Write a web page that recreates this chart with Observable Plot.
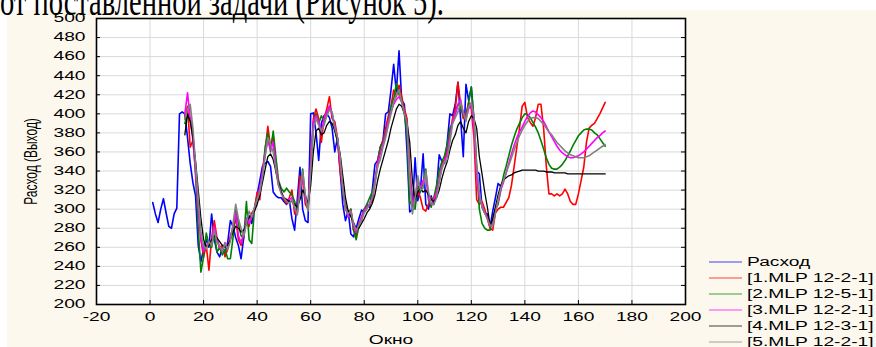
<!DOCTYPE html>
<html><head><meta charset="utf-8">
<script src="https://cdn.jsdelivr.net/npm/d3@7"></script>
<script src="https://cdn.jsdelivr.net/npm/@observablehq/plot@0.6"></script>
<style>
html,body{margin:0;padding:0;background:#fff;}
#wrap{position:relative;width:876px;height:347px;overflow:hidden;background:#fff;}
#cream{position:absolute;left:7px;top:10px;right:0;bottom:0;background:#fcf8ee;}
#chart{position:absolute;left:0;top:0;}
#over{position:absolute;left:0;top:0;}
</style></head><body>
<div id="wrap"><div id="cream"></div><div id="chart"></div><svg id="over" width="876" height="347"></svg></div>
<script>
// ---- data ----
const caption = "от поставленной задачи (Рисунок 5).";
const xLabel = "Окно";
const yLabel = "Расход (Выход)";
const xTicks = [-20, 0, 20, 40, 60, 80, 100, 120, 140, 160, 180, 200];
const yTicks = [200, 220, 240, 260, 280, 300, 320, 340, 360, 380, 400, 420, 440, 460, 480, 500];
const seriesNames = ["Расход", "[1.MLP 12-2-1]", "[2.MLP 12-5-1]", "[3.MLP 12-2-1]", "[4.MLP 12-3-1]", "[5.MLP 12-2-1]"];
const seriesColors = ["#0000ff", "#ff0000", "#008000", "#ff00ff", "#000000", "#808080"];
const rashodStart = 1;
const modelStart = 13;
// Расход, window 1..131
const rashod = [307,295,286,300,311,296,282,280,295,301,
 400,402,400,375,348,328,314,262,245,258,
 268,260,295,268,255,250,260,254,265,288,
 282,270,262,248,270,290,293,285,300,315,
 330,345,348,350,345,318,314,312,312,308,
 305,310,290,278,310,344,300,288,286,400,
 401,380,351,390,398,400,396,385,360,375,
 340,305,288,298,274,271,280,290,299,297,
 305,302,320,347,351,365,372,400,402,425,
 452,423,466,414,410,360,297,300,354,309,
 320,358,305,300,314,305,320,357,350,348,
 370,400,398,410,433,395,355,431,414,428,
 390,340,337,302,296,295,281,298,312,327,
 324];
// models, window 13..170
const mlp1 = [395,408,365,372,345,305,268,250,262,236,
 270,288,270,258,262,250,258,272,280,290,
 268,262,275,288,282,296,300,318,310,340,
 362,387,365,378,340,325,318,310,306,312,
 320,295,298,335,330,305,300,350,395,405,
 395,370,395,405,418,395,392,375,340,320,
 300,295,300,278,272,285,288,300,302,305,
 308,328,350,365,372,385,398,408,425,418,
 430,418,405,395,340,310,305,320,312,300,
 298,305,312,308,318,330,348,352,360,380,
 395,405,433,410,395,400,412,405,375,310,
 305,308,300,290,280,278,296,300,302,302,
 307,312,325,345,365,385,408,412,396,391,
 387,396,410,410,385,345,316,316,314,316,
 314,316,321,316,308,305,305,316,330,344,
 370,385,388,390,395,400,406,412];
const mlp2 = [390,398,395,380,335,280,234,250,275,262,
 260,275,255,260,252,258,248,248,270,300,
 285,272,270,308,268,264,300,312,318,335,
 365,380,360,382,355,330,322,318,322,318,
 315,308,300,318,342,310,302,335,390,400,
 390,398,392,398,408,400,385,370,355,318,
 305,292,300,278,268,282,292,300,305,312,
 318,330,345,365,370,380,392,408,415,432,
 420,415,400,378,305,310,300,325,318,328,
 342,310,302,312,325,340,350,356,368,385,
 390,400,410,408,398,395,412,428,395,345,
 300,285,280,278,278,290,300,305,320,335,
 345,356,367,376,384,390,396,400,399,396,
 391,386,380,372,363,354,347,343,342,342,
 344,347,351,356,361,367,372,377,380,383,
 384,384,383,380,378,374,370,366];
const mlp3 = [400,422,395,372,340,300,268,256,262,265,
 268,282,268,260,256,265,260,270,282,296,
 272,265,274,290,285,292,298,310,322,338,
 358,372,362,370,345,328,318,312,310,310,
 312,300,295,325,335,310,302,345,392,398,
 392,380,395,402,408,400,388,372,350,322,
 302,292,298,282,276,284,292,298,302,306,
 312,328,348,358,368,378,392,402,410,415,
 418,412,402,390,335,305,310,330,322,330,
 335,312,305,310,318,330,345,350,358,375,
 392,400,410,415,400,395,405,410,385,335,
 312,305,296,290,282,285,298,308,320,328,
 338,348,358,367,375,381,386,392,397,401,
 403,402,399,396,392,387,381,376,371,366,
 362,359,357,355,354,354,355,356,358,360,
 363,366,369,372,375,377,380,382];
const mlp4 = [378,400,392,375,350,320,290,268,260,262,
 268,272,270,266,262,260,262,268,276,282,
 280,276,278,285,292,294,298,305,315,328,
 342,355,358,352,340,328,318,312,310,308,
 308,305,302,310,320,315,305,325,360,382,
 385,378,380,388,392,390,382,372,358,335,
 312,298,292,286,280,280,285,290,296,300,
 306,315,330,342,352,362,372,385,395,405,
 410,408,400,390,370,330,310,318,322,318,
 320,315,310,308,312,320,332,342,350,362,
 372,378,388,392,385,380,392,398,395,385,
 355,337,318,302,283,290,302,315,325,331,
 333,335,336,338,339,340,341,341,341,341,
 341,341,340,340,340,339,339,339,338,338,
 338,338,338,337,337,337,337,337,337,337,
 337,337,337,337,337,337,337,337];
const mlp5 = [395,405,410,385,348,310,275,262,258,266,
 262,278,265,262,256,264,258,266,285,305,
 290,280,272,285,298,292,302,310,318,334,
 355,375,368,360,342,325,316,312,308,306,
 310,302,294,318,340,315,298,340,385,395,
 388,382,388,398,404,402,385,375,355,322,
 300,295,298,285,278,283,289,296,300,305,
 312,326,345,352,365,375,388,400,412,420,
 425,412,400,390,330,295,312,335,320,322,
 340,318,306,305,312,328,342,350,352,370,
 390,396,402,412,402,392,408,412,398,345,
 318,302,296,290,283,282,296,310,322,330,
 338,346,354,362,370,377,383,388,392,395,
 396,396,395,392,389,385,381,378,374,370,
 367,364,361,359,357,356,355,354,354,354,
 355,356,358,360,362,364,366,368];

// ---- layout ----
const W = 876, H = 347;
const mL = 96, mR = 191, mT = 18, mB = 43;
const plotW = W - mL - mR, plotH = H - mT - mB;
const TICK = 4;
const SX = 1.6; // horizontal stretch of the original picture's text
const FONT = "'Liberation Sans', Arial, sans-serif";
const FS = 12;

const toRows = (vals, start) => vals.map((v, i) => ({x: start + i, y: v}));
const allSeries = [rashod, mlp1, mlp2, mlp3, mlp4, mlp5];
const starts = [rashodStart, modelStart, modelStart, modelStart, modelStart, modelStart];
const widths = [1.6, 1.6, 1.6, 1.6, 1.3, 1.6];

const lineMarks = allSeries.map((vals, k) =>
  Plot.line(toRows(vals, starts[k]), {x: "x", y: "y", stroke: seriesColors[k], strokeWidth: widths[k], strokeLinejoin: "round"}));

const chart = Plot.plot({
  width: W, height: H,
  marginLeft: mL, marginRight: mR, marginTop: mT, marginBottom: mB,
  style: {background: "transparent", fontFamily: FONT, fontSize: FS + "px", color: "black"},
  x: {domain: [-20, 200]},
  y: {domain: [200, 500]},
  marks: [
    Plot.frame({fill: "white", stroke: "none"}),
    Plot.gridX(xTicks, {stroke: "#d9d9d9", strokeOpacity: 1, strokeWidth: 1}),
    Plot.gridY(yTicks, {stroke: "#d9d9d9", strokeOpacity: 1, strokeWidth: 1}),
    ...lineMarks,
    Plot.ruleY(yTicks, {y: d => d, insetRight: plotW - TICK, stroke: "black"}),
    Plot.ruleY(yTicks, {y: d => d, insetLeft: plotW - TICK, stroke: "black"}),
    Plot.ruleX(xTicks, {x: d => d, insetTop: plotH - TICK, stroke: "black"}),
    Plot.frame({stroke: "black", strokeWidth: 1.6}),
    Plot.axisX(xTicks, {tickSize: 0, tickPadding: 8, tickFormat: d => String(d), label: null, fill: "black", fontSize: FS}),
    Plot.axisY(yTicks, {tickSize: 0, tickPadding: 11, tickFormat: d => String(d), label: null, fill: "black", fontSize: FS}),
    Plot.text([xLabel], {frameAnchor: "bottom", dy: 36, lineAnchor: "middle", textAnchor: "middle", fill: "black", fontSize: FS}),
    Plot.text([yLabel], {frameAnchor: "left", rotate: -90, dx: -66, lineAnchor: "middle", textAnchor: "middle", fill: "black", fontSize: FS})
  ]
});

// stretch text horizontally like the source image
chart.querySelectorAll("text").forEach(t => {
  const tr = t.getAttribute("transform") || "";
  const m = tr.match(/^translate\([^)]*\)/);
  if (m) t.setAttribute("transform", m[0] + ` scale(${SX},1)` + tr.slice(m[0].length));
  else {
    const x = +(t.getAttribute("x") || 0), y = +(t.getAttribute("y") || 0);
    t.setAttribute("x", 0); t.setAttribute("y", 0);
    t.setAttribute("transform", `translate(${x},${y}) scale(${SX},1) ${tr}`);
  }
});
document.getElementById("chart").appendChild(chart);

// ---- overlay: caption and legend ----
const ns = "http://www.w3.org/2000/svg";
const over = document.getElementById("over");
function el(name, attrs, text) {
  const e = document.createElementNS(ns, name);
  for (const k in attrs) e.setAttribute(k, attrs[k]);
  if (text != null) e.textContent = text;
  over.appendChild(e);
  return e;
}
el("text", {transform: "translate(0,15) scale(1,1.5)", "font-family": "'Liberation Serif', 'Times New Roman', serif", "font-size": 28.5, fill: "black"}, caption);
const lgX = 709, lgY = 262, lgStep = 16;
seriesNames.forEach((name, i) => {
  const y = lgY + i * lgStep;
  el("line", {x1: lgX, x2: lgX + 33, y1: y, y2: y, stroke: seriesColors[i], "stroke-width": 1.2, "stroke-opacity": 0.75});
  el("text", {transform: `translate(${lgX + 38},${y}) scale(${SX},1)`, dy: "0.36em", "font-family": FONT, "font-size": FS, fill: "black"}, name);
});
</script></body></html>
